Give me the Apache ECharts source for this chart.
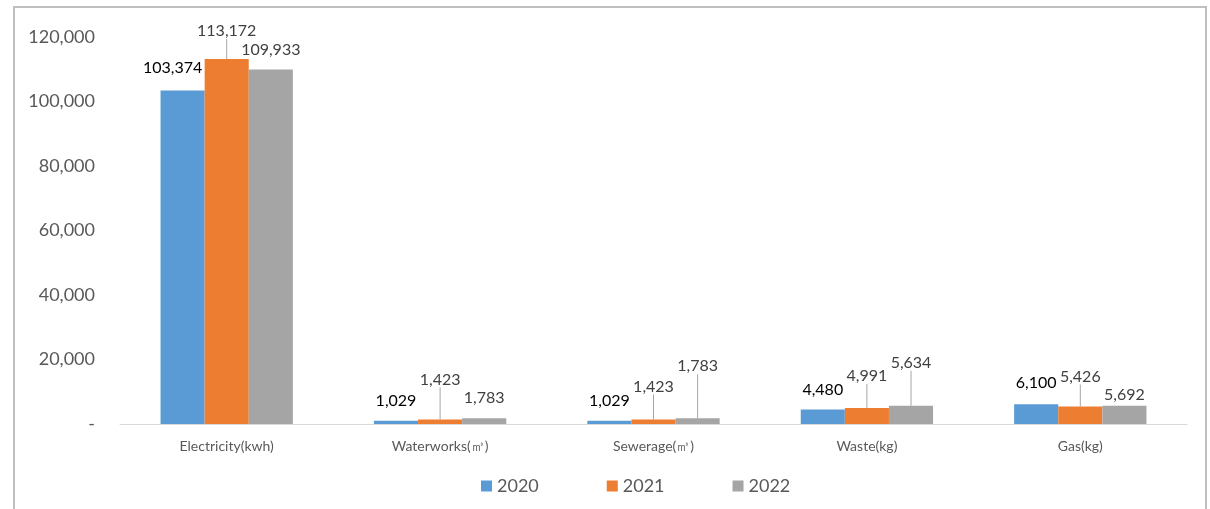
<!DOCTYPE html>
<html><head><meta charset="utf-8">
<script src="https://cdn.jsdelivr.net/npm/echarts@6/dist/echarts.min.js"></script>
<style>html,body{margin:0;padding:0;background:#fff}#c{width:1210px;height:509px}</style>
</head><body><div id="c"></div>
<script>
const categories = ['Electricity(kwh)', 'Waterworks(㎥)', 'Sewerage(㎥)', 'Waste(kg)', 'Gas(kg)'];
const years = ['2020', '2021', '2022'];
const values2020 = [103374, 1029, 1029, 4480, 6100];
const values2021 = [113172, 1423, 1423, 4991, 5426];
const values2022 = [109933, 1783, 1783, 5634, 5692];
const yTicks = { min: 0, max: 120000, interval: 20000 };

// label placement tweaks (styling, not data)
const labelShift = [
  [[-10,-10],[0,-7],[0,-7],[0,-7],[0,-8]],
  [[0,-15],[0,-27],[0,-20],[0,-19],[0,-17]],
  [[0,-7],[0,-7],[0,-39],[0,-30],[0,2]]
];
const leader = [
  [false,false,false,false,false],
  [true,true,true,true,true],
  [false,false,true,true,false]
];
const colors = ['#5b9bd5', '#ed7d31', '#a5a5a5'];
const labelColors = ['#000000', '#404040', '#404040'];
const seriesValues = [values2020, values2021, values2022];
const FONT = 'Lato, "Noto Sans", sans-serif';
const fmt = v => v.toLocaleString('en-US');

const chart = echarts.init(document.getElementById('c'), null, {renderer: 'canvas'});
chart.setOption({
  animation: false,
  textStyle: {fontFamily: FONT},
  graphic: [{
    type: 'rect', shape: {x: 14, y: 7, width: 1192, height: 520},
    style: {fill: 'none', stroke: '#bfbfbf', lineWidth: 2}, silent: true, z: -1
  }],
  grid: {left: 120, right: 23, top: 37, bottom: 85},
  legend: {
    data: years, left: 476, top: 472, itemWidth: 11, itemHeight: 11, itemGap: 68,
    icon: 'rect', textStyle: {fontSize: 18, color: '#595959', fontFamily: FONT}
  },
  xAxis: {
    type: 'category', data: categories,
    axisTick: {show: false},
    axisLine: {lineStyle: {color: '#d9d9d9', width: 1}},
    axisLabel: {fontSize: 14, color: '#595959', margin: 15, fontFamily: FONT}
  },
  yAxis: {
    type: 'value', min: yTicks.min, max: yTicks.max, interval: yTicks.interval,
    splitLine: {show: false}, axisLine: {show: false}, axisTick: {show: false},
    axisLabel: {fontSize: 18, color: '#595959', margin: 25, fontFamily: FONT,
      formatter: v => v === 0 ? '-' : fmt(v)}
  },
  series: seriesValues.map((vals, si) => ({
    name: years[si], type: 'bar', barGap: '0%', barCategoryGap: '38%',
    itemStyle: {color: colors[si]},
    data: vals.map((v, i) => ({
      value: v,
      labelLine: {show: leader[si][i], lineStyle: {color: '#a6a6a6', width: 1}}
    })),
    label: {show: true, position: 'top', distance: 5, fontSize: 16, color: labelColors[si],
      fontFamily: FONT, formatter: p => fmt(p.value)},
    labelLayout: p => ({dx: labelShift[si][p.dataIndex][0], dy: labelShift[si][p.dataIndex][1]}),
    labelLine: {show: false, lineStyle: {color: '#a6a6a6', width: 1}}
  }))
});
</script></body></html>
